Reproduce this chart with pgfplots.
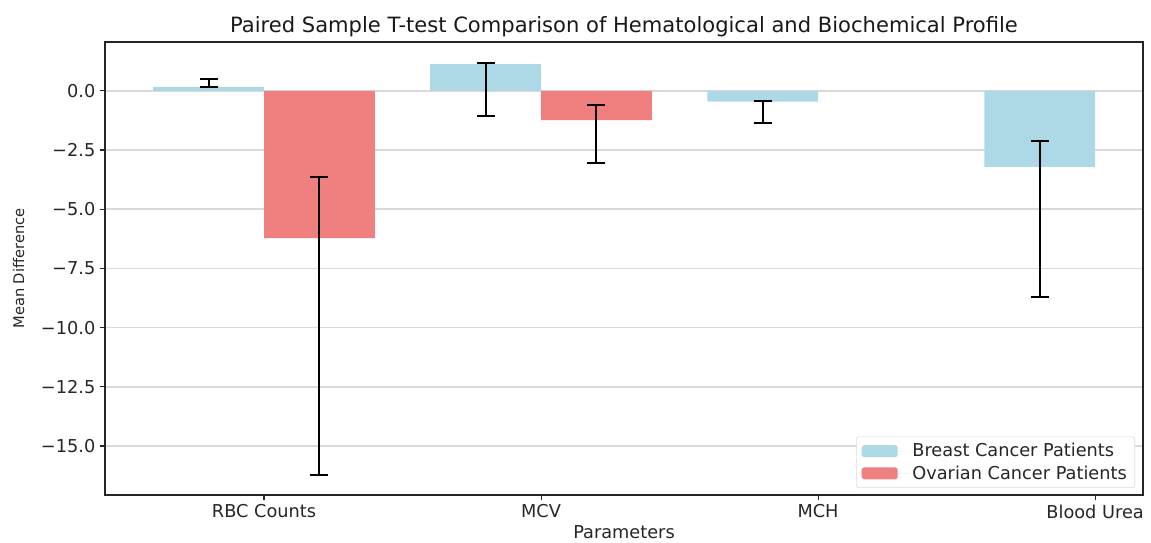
\documentclass[border=0pt]{standalone}
\usepackage{fontspec}
\setmainfont{DejaVu Sans}
\usepackage{pgfplots}
\usepackage{pgfplotstable}
\pgfplotsset{compat=1.18}
\definecolor{lblue}{HTML}{ADD8E6}
\definecolor{lcoral}{HTML}{F08080}
\pgfplotstableread{
x y ep em
0 0.17 0.31 0.00
1 1.13 0.03 2.20
2 -0.46 0.01 0.89
3 -3.21 1.08 5.49
}\breast
\pgfplotstableread{
x y ep em
0 -6.22 2.57 10.01
1 -1.24 0.64 1.83
}\ovarian
\begin{document}
\begin{tikzpicture}
\useasboundingbox (-78.75pt,-35.25pt) rectangle (784.5pt,371.25pt);
\begin{axis}[
  at={(0pt,0pt)}, anchor=south west, scale only axis,
  width=778.5pt, height=339.75pt,
  xmin=-0.574, xmax=3.173, ymin=-17.07, ymax=2.06,
  xtick={0,1,2,3},
  xticklabels={RBC Counts,MCV,MCH,Blood Urea},
  ytick={-15,-12.5,-10,-7.5,-5,-2.5,0},
  yticklabels={−15.0,−12.5,−10.0,−7.5,−5.0,−2.5,0.0},
  tick align=outside, tick pos=left,
  major tick length=3.75pt,
  tick style={black!85, line width=0.8pt},
  ymajorgrids, grid style={line width=1.1pt, color=black!15},
  axis line style={black!85, line width=0.8pt},
  tick label style={font=\fontsize{13.3}{16}\selectfont, text=black!85},
  xlabel style={font=\fontsize{13.3}{16}\selectfont, text=black!85, yshift=1.5pt},
  ylabel style={font=\fontsize{11}{13}\selectfont, text=black!85, yshift=5.5pt},
  xlabel={Parameters}, ylabel={Mean Difference},
  title={Paired Sample T-test Comparison of Hematological and Biochemical Profile},
  title style={font=\fontsize{15.8}{19}\selectfont, text=black!90, yshift=-6pt},
  legend style={at={(1,0)}, anchor=south east, xshift=-6pt, yshift=5.25pt,
    draw=black!15, rounded corners=2pt, font=\fontsize{13.3}{16}\selectfont,
    text=black!85, row sep=1pt, inner xsep=4pt, inner ysep=3pt},
  legend cell align=left,
  legend image code/.code={\fill[#1] (0pt,-4.5pt) rectangle (27pt,4.5pt);
    \path (0pt,0pt) -- (36pt,0pt);},
]
\addplot[ybar, bar width=0.4, bar shift=0pt, fill=lblue, draw=none,
  error bars/.cd, y dir=both, y explicit,
  error bar style={line width=1.5pt, black},
  error mark options={black, line width=1.5pt, mark size=6.75pt, rotate=90}]
  table[x expr=\thisrow{x}-0.2, y=y, y error plus=ep, y error minus=em] {\breast};
\addlegendentry{Breast Cancer Patients}
\addplot[ybar, bar width=0.4, bar shift=0pt, fill=lcoral, draw=none,
  error bars/.cd, y dir=both, y explicit,
  error bar style={line width=1.5pt, black},
  error mark options={black, line width=1.5pt, mark size=6.75pt, rotate=90}]
  table[x expr=\thisrow{x}+0.2, y=y, y error plus=ep, y error minus=em] {\ovarian};
\addlegendentry{Ovarian Cancer Patients}
\end{axis}
\end{tikzpicture}
\end{document}
